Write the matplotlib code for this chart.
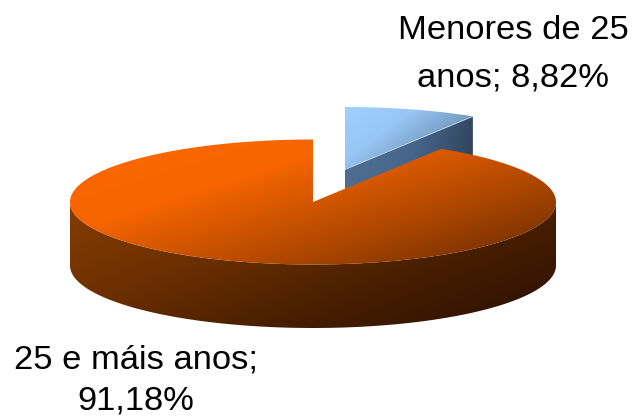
import numpy as np
import matplotlib
matplotlib.use("Agg")
import matplotlib.pyplot as plt
from matplotlib.colors import LinearSegmentedColormap
from matplotlib.patches import Polygon

labels = ["Menores de 25\nanos; 8,82%", "25 e máis anos;\n91,18%"]
shares = [8.82, 91.18]

W, H = 632, 417
RX, RY, DEPTH = 243.0, 62.5, 63.5
CX_BIG, CY_BIG = 313.0, 202.0
CX_SMALL, CY_SMALL = 345.0, 169.5

plt.rcParams["font.family"] = ["Liberation Sans", "DejaVu Sans"]
fig = plt.figure(figsize=(W / 100, H / 100), dpi=100)
ax = fig.add_axes([0, 0, 1, 1])
ax.set_xlim(0, W)
ax.set_ylim(H, 0)
ax.axis("off")

split = 2 * np.pi * shares[0] / sum(shares)


def rim(th, cx, cy, dy=0.0):
    return np.column_stack([cx + RX * np.sin(th), cy - RY * np.cos(th) + dy])


def fill(poly, cmap_colors, bbox, z, wx=0.55):
    x0, x1, y0, y1 = bbox
    xx, yy = np.meshgrid(np.linspace(x0, x1, 300), np.linspace(y0, y1, 200))
    t = wx * (xx - x0) / (x1 - x0) + (1 - wx) * (yy - y0) / (y1 - y0)
    cmap = LinearSegmentedColormap.from_list("g", cmap_colors)
    im = ax.imshow(t, extent=(x0, x1, y1, y0), cmap=cmap, vmin=0, vmax=1,
                   zorder=z, aspect="auto", interpolation="bilinear")
    patch = Polygon(poly, closed=True, transform=ax.transData, fc="none", ec="none")
    ax.add_patch(patch)
    im.set_clip_path(patch)
    ax.set_xlim(0, W)
    ax.set_ylim(H, 0)


# Small slice: inner cut face, then top face
th_s = np.linspace(0, split, 60)
apex_s = np.array([[CX_SMALL, CY_SMALL]])
edge = rim(np.array([split]), CX_SMALL, CY_SMALL)
cut = np.vstack([apex_s, edge, edge + [0, DEPTH], apex_s + [0, DEPTH]])
fill(cut, ["#4f7093", "#46658a", "#2a3b50"], (345, 474, 116, 233), 1, wx=0.85)
top_s = np.vstack([apex_s, rim(th_s, CX_SMALL, CY_SMALL)])
fill(top_s, ["#a2d0fd", "#98c6f5", "#7398bd", "#4a6b8d"], (345, 474, 107, 170), 2, wx=0.6)
ax.plot(*np.vstack([apex_s, edge]).T, color="#c4d6e8", lw=0.6, zorder=3)

# Big slice: outer wall, then top face
th_w = np.linspace(np.pi / 2, 3 * np.pi / 2, 240)
wall = np.vstack([rim(th_w, CX_BIG, CY_BIG), rim(th_w[::-1], CX_BIG, CY_BIG, DEPTH)])
fill(wall, ["#863d00", "#6c2f00", "#451d00", "#2a0f00"], (70, 557, 202, 329), 4, wx=0.6)
th_b = np.linspace(split, 2 * np.pi, 400)
top_b = np.vstack([[[CX_BIG, CY_BIG]], rim(th_b, CX_BIG, CY_BIG)])
fill(top_b, ["#ff6a00", "#f56400", "#b04800", "#632800"], (70, 557, 139, 265), 5, wx=0.55)

ax.text(513, 54.5, labels[0], ha="center", va="center", fontsize=24.8, linespacing=1.68,
        color="black", zorder=6)
ax.text(136, 380.5, labels[1], ha="center", va="center", fontsize=24.8, linespacing=1.42,
        color="black", zorder=6, clip_on=False)

fig.savefig("out.png", dpi=100)
